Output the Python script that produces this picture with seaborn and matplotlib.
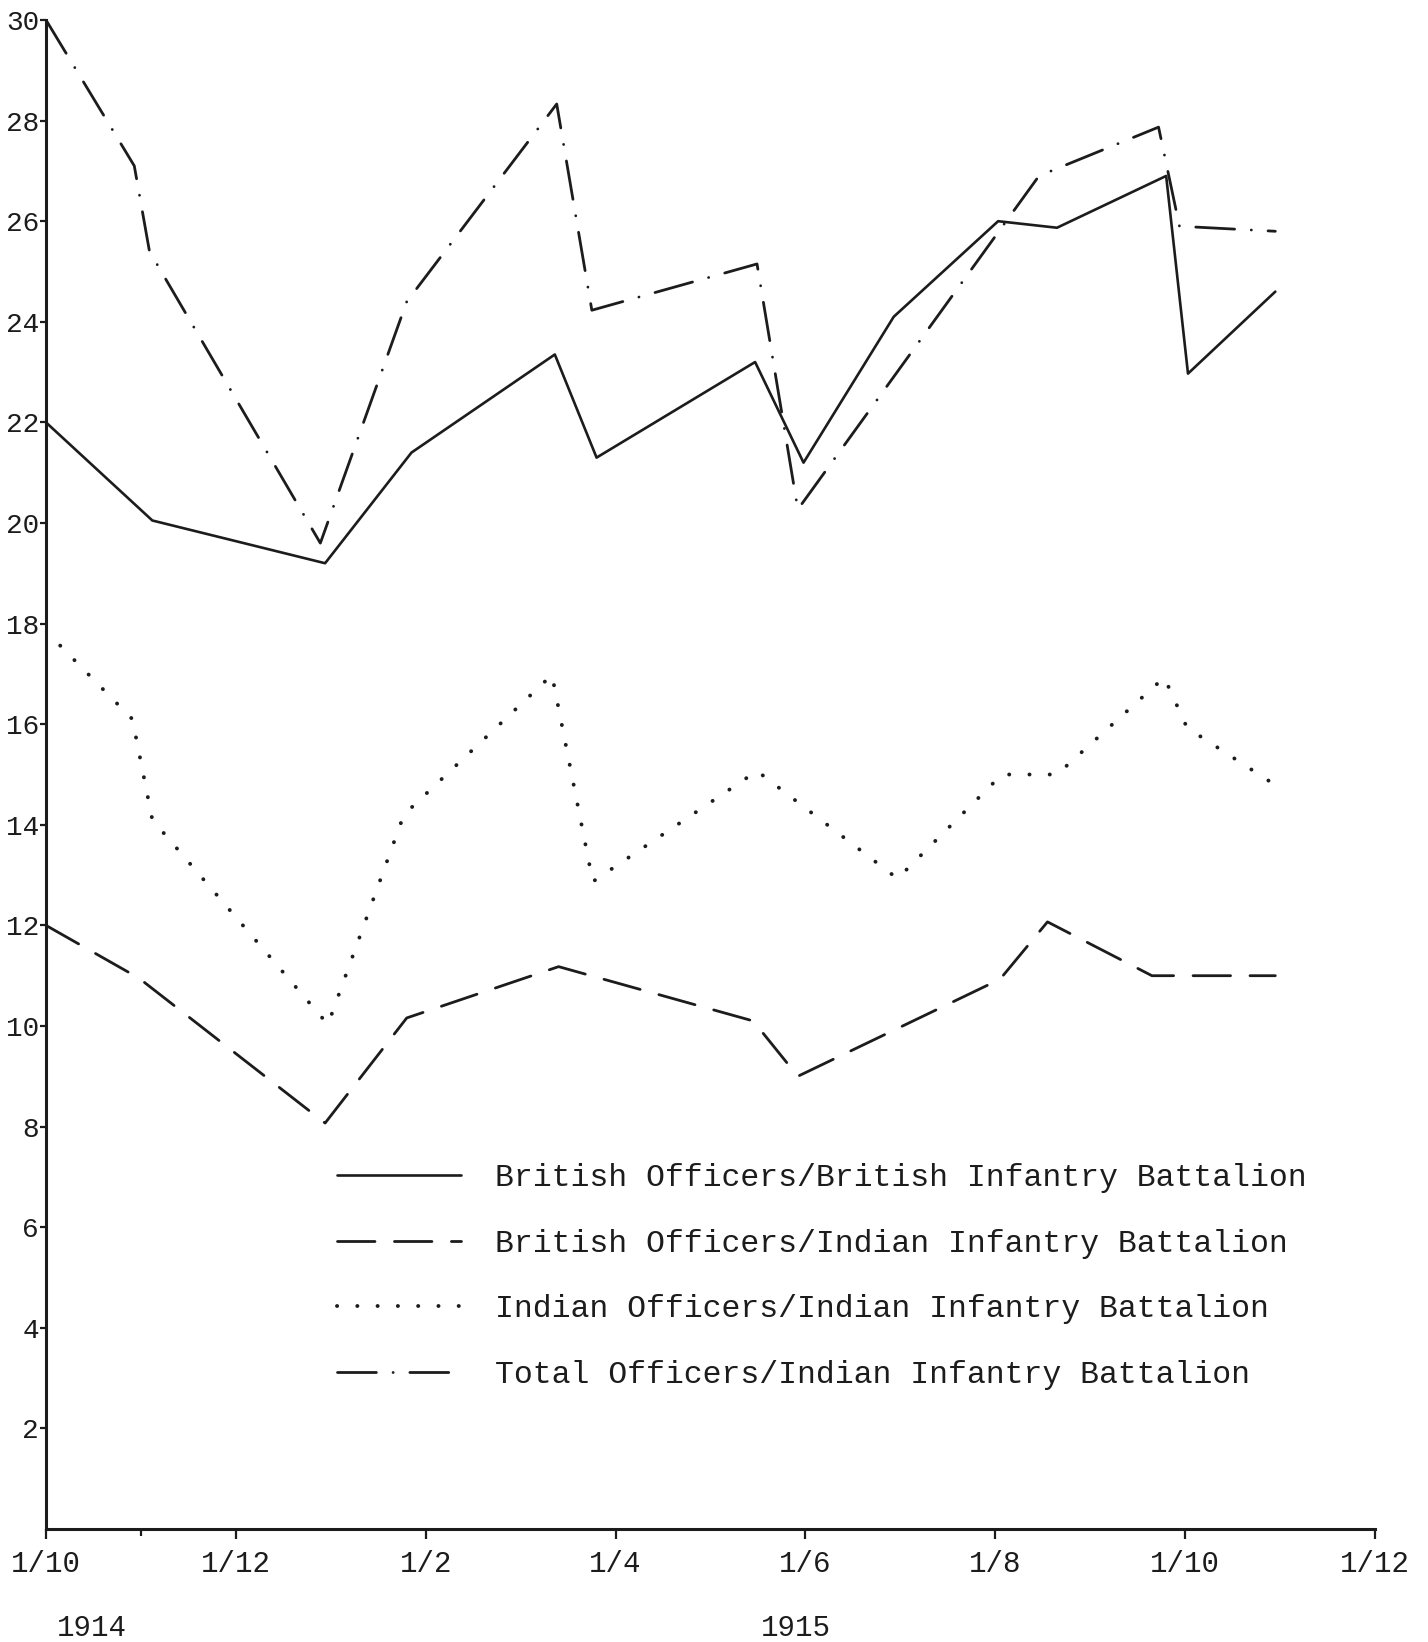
import pandas as pd
import seaborn as sns
import matplotlib.pyplot as plt
import matplotlib.ticker as ticker

# x values are months after 1 Oct 1914
BB_MONTHS = [0.0, 1.12, 2.94, 3.85, 5.36, 5.80, 7.47, 7.98, 8.93, 10.03, 10.65, 11.80, 12.03, 12.95]
BB_VALUES = [22.0, 20.05, 19.2, 21.4, 23.35, 21.3, 23.2, 21.2, 24.1, 26.0, 25.87, 26.9, 22.97, 24.6]

BI_MONTHS = [0.0, 0.98, 2.94, 3.80, 5.40, 7.45, 7.92, 10.05, 10.55, 11.65, 12.95]
BI_VALUES = [12.0, 10.95, 8.07, 10.16, 11.18, 10.1, 9.0, 10.93, 12.07, 11.0, 11.0]

II_MONTHS = [0.0, 0.91, 1.12, 2.97, 3.77, 5.33, 5.76, 7.49, 8.97, 10.07, 10.65, 11.78, 12.02, 12.95]
II_VALUES = [17.85, 16.1, 14.1, 10.03, 14.2, 16.98, 12.87, 15.07, 12.93, 15.0, 15.0, 16.93, 15.93, 14.79]

TI_MONTHS = [0.0, 0.93, 1.09, 2.89, 3.80, 5.38, 5.75, 7.49, 7.92, 10.46, 11.72, 11.94, 12.95]
TI_VALUES = [30.0, 27.1, 25.4, 19.6, 24.4, 28.33, 24.23, 25.15, 20.27, 26.9, 27.87, 25.9, 25.8]

LABELS = ['British Officers/British Infantry Battalion',
          'British Officers/Indian Infantry Battalion',
          'Indian Officers/Indian Infantry Battalion',
          'Total Officers/Indian Infantry Battalion']

TICK_MONTHS = [0, 2, 4, 6, 8, 10, 12, 14]
TICK_LABELS = ['1/10', '1/12', '1/2', '1/4', '1/6', '1/8', '1/10', '1/12']
Y_TICKS = list(range(2, 31, 2))
YEARS = ['1914', '1915']

INK = '#1c1c1c'
FONT = 'Liberation Mono'
W, H = 1428, 1642


def build_frame():
    frames = []
    for label, months, values in zip(LABELS,
                                     [BB_MONTHS, BI_MONTHS, II_MONTHS, TI_MONTHS],
                                     [BB_VALUES, BI_VALUES, II_VALUES, TI_VALUES]):
        frames.append(pd.DataFrame({'month': months, 'officers': values, 'series': label}))
    return pd.concat(frames).reset_index(drop=True)


def main():
    sns.set_style('ticks')
    plt.rcParams['font.family'] = [FONT, 'DejaVu Sans']
    plt.rcParams['lines.scale_dashes'] = False
    plt.rcParams['lines.dash_capstyle'] = 'round'

    df = build_frame()

    fig = plt.figure(figsize=(W / 100, H / 100), dpi=100)
    ax = fig.add_axes([46 / W, 113 / H, (1375 - 46) / W, (1529 - 20) / H])

    styles = {
        LABELS[0]: dict(linestyle='-', linewidth=1.9),
        LABELS[1]: dict(linestyle=(0, (27, 14)), linewidth=2.0),
        LABELS[2]: dict(linestyle=(0, (0.1, 14.5)), linewidth=2.8),
        LABELS[3]: dict(linestyle=(0, (28, 12, 0.1, 12)), linewidth=2.0),
    }
    for label in LABELS:
        sns.lineplot(data=df[df['series'] == label], x='month', y='officers',
                     color=INK, label=label, ax=ax, **styles[label])

    ax.set_xlim(0, 14)
    ax.set_ylim(0, 30)
    ax.set_xlabel('')
    ax.set_ylabel('')
    sns.despine(ax=ax)
    for side in ['left', 'bottom']:
        ax.spines[side].set_linewidth(2.2)
        ax.spines[side].set_color(INK)

    ax.xaxis.set_major_locator(ticker.FixedLocator(TICK_MONTHS))
    ax.xaxis.set_minor_locator(ticker.FixedLocator([1]))
    ax.set_xticklabels(TICK_LABELS)
    ax.yaxis.set_major_locator(ticker.FixedLocator(Y_TICKS))
    ax.tick_params(axis='x', which='both', direction='out', length=7, width=1.6,
                   color=INK, labelsize=21, pad=8, labelcolor=INK)
    ax.tick_params(axis='x', which='minor', length=5)
    ax.tick_params(axis='y', direction='out', length=4, width=1.6, color=INK,
                   labelsize=20, pad=1, labelcolor=INK)

    ax.legend(loc='upper left', bbox_to_anchor=(337 / W, 1 - 1163 / H),
              bbox_transform=fig.transFigure, frameon=False,
              prop={'family': FONT, 'size': 22.7}, labelcolor=INK,
              handlelength=3.92, handletextpad=1.1, labelspacing=1.13,
              borderpad=0, borderaxespad=0)

    fig.text(92 / W, 1 - 1628 / H, YEARS[0], ha='center', va='center',
             fontsize=21, color=INK, family=FONT)
    fig.text(796 / W, 1 - 1628 / H, YEARS[1], ha='center', va='center',
             fontsize=21, color=INK, family=FONT)

    plt.savefig('out.png', dpi=100)
    plt.close()


main()
